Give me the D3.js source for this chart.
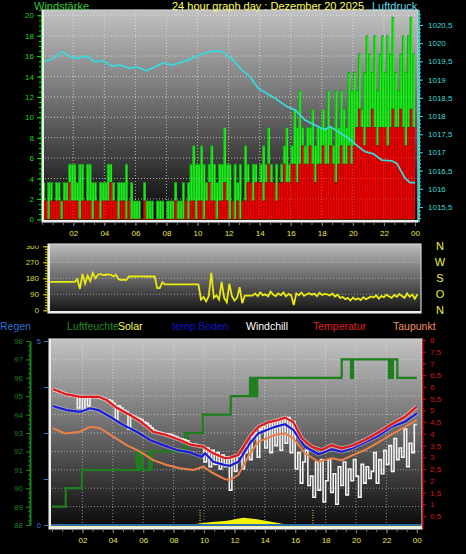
<!DOCTYPE html>
<html>
<head>
<meta charset="utf-8">
<script src="https://cdn.jsdelivr.net/npm/d3@7"></script>
<style>
  body { margin: 0; background: #000; }
  text { font-family: "Liberation Sans", Arial, sans-serif; }
</style>
</head>
<body>
<div id="chart"></div>
<script>
// ---- data ----
var hourLabels = ["02","04","06","08","10","12","14","16","18","20","22","00"];

// wind, in steps of 1.8 km/h, one value every 10 minutes (0:00 .. 23:50)
var windStep = 1.8;
var gustLevels = [
  2,1,2,2,0,2, 2,1,2,2,3,3, 3,2,3,3,1,3, 3,2,2,1,2,2, 2,3,3,2,1,2, 2,2,3,1,2,1,
  1,1,0,2,1,1, 1,0,1,1,1,0, 1,1,1,2,1,1, 2,1,2,3,4,3, 3,4,3,2,3,4, 3,2,3,3,5,3,
  3,1,3,2,3,1, 4,3,2,3,3,2, 3,4,3,5,3,2, 3,2,3,4,5,3, 4,6,5,7,5,4, 5,5,6,4,5,5,
  6,5,7,5,4,7, 5,7,6,5,8,7, 8,7,9,6,8,10, 9,8,10,7,9,10, 8,10,9,11,8,7, 9,10,8,10,11,9];
var speedLevels = [
  1,1,0,1,1,1, 1,0,1,1,2,1, 1,1,0,1,1,1, 1,0,1,1,0,1, 1,1,2,1,1,0, 1,1,0,1,0,0,
  0,0,0,1,0,0, 0,0,0,0,0,0, 0,0,0,1,0,0, 0,1,0,1,1,0, 1,1,0,1,2,1, 1,0,1,1,2,1,
  0,1,0,1,0,1, 1,2,2,1,2,2, 2,1,2,3,2,2, 1,2,2,3,2,2, 3,3,2,3,4,3, 3,4,3,2,3,3,
  4,3,3,4,3,2, 3,4,3,3,4,3, 4,5,6,5,4,5, 5,6,5,4,5,5, 5,4,5,6,5,5, 6,5,4,5,6,5];

// wind direction in degrees, every 10 minutes
var dirDeg = [
  160,160,160,160,160,160, 160,160,160,160,160,175, 120,205,150,195,165,210,
  180,200,205,198,200,202, 200,190,200,175,170,172, 170,190,190,190,190,192,
  190,190,190,190,190,190, 125,125,158,146,146,146, 146,146,146,146,146,146,
  146,146,146,146,146,60,  75,50,80,210,70,85,      60,160,70,45,150,80,
  55,70,130,40,82,82,      82,82,95,80,100,85,      90,78,105,88,80,95,
  85,100,78,92,84,30,      95,85,100,82,90,96,      88,94,80,98,86,92,
  90,84,95,78,88,70,       75,62,70,55,72,60,       68,58,74,62,70,78,
  72,84,66,80,74,88,       78,70,86,76,92,80,       70,95,76,88,65,90];

// air pressure (hPa)
var presHour = [0.07,0.71,1.26,1.79,2.22,2.87,3.4,3.92,4.48,5.01,5.65,6.08,6.73,7.26,7.8,8.34,8.87,
  9.52,10.16,10.8,11.45,11.77,12.2,12.85,13.27,13.92,14.46,14.99,15.74,16.28,16.92,17.56,18.21,
  18.53,19.07,19.71,20.35,20.78,21.32,21.86,22.5,22.83,23.36,23.68,24];
var presHpa = [1019.49,1019.58,1019.77,1019.63,1019.58,1019.65,1019.49,1019.52,1019.37,1019.4,
  1019.31,1019.35,1019.24,1019.35,1019.46,1019.4,1019.46,1019.56,1019.68,1019.77,1019.79,1019.7,
  1019.58,1019.26,1019.13,1018.76,1018.62,1018.49,1018.26,1018.17,1017.89,1017.75,1017.62,
  1017.71,1017.57,1017.39,1017.16,1017.02,1016.96,1016.79,1016.77,1016.7,1016.29,1016.17,1016.17];

// temperatures (°C)
var tempHour = [0.05,0.97,1.84,3.05,3.6,4.26,5.13,5.79,6.66,7.55,8.42,9.08,9.95,10.61,11.38,11.71,
  12.26,13.03,13.57,14.23,14.89,15.33,15.88,16.43,17.09,17.74,18.4,19.06,19.72,20.59,21.47,22.35,23.22,24];
var tempVal = [5.91,5.68,5.58,5.58,5.44,5.11,4.8,4.55,4.09,3.95,3.74,3.55,3.45,3.17,2.96,2.98,
  3.1,3.88,4.3,4.49,4.59,4.69,4.49,3.81,3.45,3.31,3.52,3.38,3.49,3.74,4.06,4.41,4.73,5.16];
var soilHour = [0.05,0.97,1.84,2.5,3.05,3.82,4.69,5.57,6.45,7.32,8.2,9.08,9.85,10.07,10.61,11.38,
  11.71,12.26,13.03,13.57,14.67,15.33,15.88,16.64,17.52,18.4,19.06,19.72,20.59,21.47,22.35,23.22,24];
var soilVal = [5.19,5.01,4.94,5.09,5.01,4.73,4.38,4.09,3.74,3.52,3.31,3.21,3.02,3.17,2.81,2.67,
  2.64,2.81,3.6,4.02,4.3,4.41,4.16,3.45,3.13,3.34,3.24,3.38,3.64,3.92,4.3,4.52,4.87];
var dewHour = [0.05,0.86,1.84,2.5,3.16,4.03,4.91,5.79,6.66,7.55,8.42,9.3,9.95,10.61,11.38,11.71,
  12.26,13.03,13.57,14.67,15.33,15.88,16.64,17.52,18.4,19.06,19.72,20.59,21.47,22.35,23.22,24];
var dewVal = [4.24,4.02,4.09,4.3,4.24,3.88,3.52,3.24,2.88,2.67,2.53,2.46,2.6,2.32,2.07,2.03,
  2.25,3.17,3.66,3.95,4.02,3.81,3.17,2.81,2.96,2.88,3.07,3.31,3.64,3.98,4.3,4.59];
// windchill, every 10 minutes
var chillVal = [
  5.9,5.85,5.8,5.8,5.75,5.7,  5.65,5.6,5.6,5.6,5.1,5.6,   5.0,5.58,5.2,5.58,5.58,5.58,
  5.55,5.5,5.5,5.45,5.45,5.4, 5.3,4.6,5.2,5.1,5.0,4.95,   4.2,4.8,4.75,4.7,4.65,4.6,
  4.5,4.45,4.35,4.25,4.15,4.1, 4.07,4.05,4.0,4.0,3.98,3.95, 3.9,3.85,3.8,3.78,3.75,3.7,
  3.6,3.58,3.55,3.5,3.47,3.45, 2.8,3.4,2.6,3.3,2.7,3.2,   2.5,3.1,2.6,3.0,1.6,2.98,
  2.4,3.05,3.1,2.5,3.2,3.5,   2.9,3.88,4.05,3.0,4.2,4.3,  3.4,4.45,3.2,4.5,3.5,4.59,
  3.3,4.65,3.6,4.69,3.2,4.5,  2.5,3.2,1.9,2.8,3.3,1.8,    2.2,1.3,2.8,1.6,2.9,1.1,
  2.0,2.9,1.5,2.3,1.0,2.6,    1.8,2.8,1.4,2.5,2.0,2.9,    2.2,1.3,2.7,1.9,2.6,2.1,
  2.4,3.2,1.9,2.9,2.3,3.3,    2.7,3.5,2.4,3.8,2.9,3.4,    3.0,4.2,2.6,3.6,3.2,4.4];

// humidity (%), value holds from its hour until the next one
var humHour = [0,0.9,1.97,5.57,5.7,5.85,5.95,6.4,6.5,6.56,8.75,8.82,8.9,9.93,11.76,13.03,13.1,13.25,
  13.35,13.5,19.06,19.67,19.8,22.17,22.25,22.35,22.43,22.72,24];
var humVal = [89,90,91,92,91,92,91,92,91,92,93,92,93,94,95,96,95,96,95,96,97,96,97,96,97,96,97,96,96];

// solar (W/m²)
var solarHour = [9.3,9.41,10.39,11.51,12.57,13.22,14.14,15.33,15.5];
var solarVal = [0,5,15,23,39,34,21,4,0];
var sunMarks = [9.74, 17.17];
var rainVal = 0;

var legendNames = ["Regen","Luftfeuchte","Solar","temp Boden","Windchill","Temperatur","Taupunkt"];
var legendColors = ["#2f6fd6","#1f8f1f","#ffff50","#1414c8","#ffffff","#e02020","#f09060"];
var legendX = [0,67,118,172,246,313,393];

// ---- svg ----
var width = 466, height = 554;
var svg = d3.select("#chart").append("svg")
    .attr("width", width)
    .attr("height", height)
    .style("background", "#000");
var defs = svg.append("defs");

function panel(id, p, topColor, bottomColor) {
  var g = defs.append("linearGradient").attr("id", id + "-bg")
      .attr("x1", 0).attr("y1", 0).attr("x2", 0).attr("y2", 1);
  g.append("stop").attr("offset", "0%").attr("stop-color", topColor);
  g.append("stop").attr("offset", "100%").attr("stop-color", bottomColor);
  defs.append("clipPath").attr("id", id + "-clip").append("rect")
      .attr("x", p.x).attr("y", p.y).attr("width", p.w).attr("height", p.h);
  svg.append("rect").attr("x", p.x).attr("y", p.y).attr("width", p.w).attr("height", p.h)
      .attr("fill", "url(#" + id + "-bg)");
  return svg.append("g").attr("clip-path", "url(#" + id + "-clip)");
}

function frame(p) {
  svg.append("rect").attr("x", p.x).attr("y", p.y).attr("width", p.w).attr("height", p.h)
      .attr("fill", "none").attr("stroke", "#d0d0d0").attr("stroke-width", 1.2);
  svg.append("path").attr("d", "M" + (p.x + 1) + "," + p.y + "V" + (p.y + p.h - 1) + "H" + (p.x + p.w))
      .attr("fill", "none").attr("stroke", "#ececec").attr("stroke-width", 2);
}

function grid(g, p, xs, ys, xScale, yScale, op) {
  g.selectAll(null).data(ys).enter().append("line")
      .attr("x1", p.x).attr("x2", p.x + p.w)
      .attr("y1", function(d) { return yScale(d); }).attr("y2", function(d) { return yScale(d); })
      .attr("stroke", "#e8e8e8").attr("stroke-opacity", op).attr("stroke-dasharray", "1,2");
  g.selectAll(null).data(xs).enter().append("line")
      .attr("y1", p.y).attr("y2", p.y + p.h)
      .attr("x1", function(d) { return xScale(d); }).attr("x2", function(d) { return xScale(d); })
      .attr("stroke", "#e8e8e8").attr("stroke-opacity", op).attr("stroke-dasharray", "1,2");
}

function styleAxis(sel, color, size) {
  sel.selectAll("path").attr("stroke", color);
  sel.selectAll("line").attr("stroke", color);
  sel.selectAll("text").attr("fill", color).style("font-size", size + "px")
      .style("font-family", "'Liberation Sans', Arial, sans-serif");
}

var comma = function(d) { return String(d).replace(".", ","); };
var hourFmt = function(h) { return d3.format("02")(h % 24); };

// =========== top panel : wind + pressure ===========
var pTop = {x: 42, y: 10, w: 376, h: 212};
var xTop = d3.scaleLinear().domain([0, 24]).range([42.2, 415]);
var yWind = d3.scaleLinear().domain([0, 20]).range([219.3, 15.3]);
var yPres = d3.scaleLinear().domain([1015.5, 1020.5]).range([207, 25]);

var gTop = panel("top", pTop, "#c2c2c2", "#030303");
grid(gTop, pTop, d3.range(2, 24, 2), d3.range(2, 21, 2), xTop, yWind, 0.55);

function windSeries(levels) {
  var pts = levels.map(function(v, i) { return {t: i / 6, v: v * windStep}; });
  pts.push({t: 24, v: levels[levels.length - 1] * windStep});
  return pts;
}
var windArea = d3.area().curve(d3.curveStepAfter)
    .x(function(d) { return xTop(d.t); })
    .y0(yWind(0))
    .y1(function(d) { return yWind(d.v); });

function windBars(levels, fill, edge) {
  gTop.append("path").datum(windSeries(levels)).attr("d", windArea).attr("fill", fill);
  // a dark edge at every sample, like the thin bars of the original
  gTop.selectAll(null).data(levels).enter().append("line")
      .attr("x1", function(d, i) { return xTop(i / 6) + 0.4; })
      .attr("x2", function(d, i) { return xTop(i / 6) + 0.4; })
      .attr("y1", yWind(0))
      .attr("y2", function(d) { return yWind(d * windStep); })
      .attr("stroke", edge).attr("stroke-width", 0.8);
  gTop.selectAll(null).data(levels).enter().append("line")
      .attr("x1", function(d, i) { return xTop(i / 6); })
      .attr("x2", function(d, i) { return xTop((i + 1) / 6); })
      .attr("y1", function(d) { return yWind(d * windStep); })
      .attr("y2", function(d) { return yWind(d * windStep); })
      .attr("stroke", edge).attr("stroke-width", 0.8);
}
windBars(gustLevels, "#18f018", "#1d8f1d");
windBars(speedLevels, "#f20000", "#9a0000");

// grid shows through the bars
grid(gTop, pTop, d3.range(2, 24, 2), d3.range(2, 21, 2), xTop, yWind, 0.3);

var presLine = d3.line()
    .x(function(d, i) { return xTop(presHour[i]); })
    .y(function(d) { return yPres(d); });
gTop.append("path").datum(presHpa).attr("d", presLine)
    .attr("fill", "none").attr("stroke", "#3ad8dc").attr("stroke-width", 1.8);
frame(pTop);

// axes
var ax = svg.append("g").attr("transform", "translate(41,0)")
    .call(d3.axisLeft(yWind).tickValues(d3.range(0, 21, 2)).tickSize(4).tickSizeOuter(0).tickPadding(3));
styleAxis(ax, "#22d022", 8);
ax = svg.append("g").attr("transform", "translate(41,0)")
    .call(d3.axisLeft(yWind).tickValues(d3.range(0, 20.6, 0.5)).tickSize(2).tickSizeOuter(0).tickFormat(""));
styleAxis(ax, "#22d022", 8);

ax = svg.append("g").attr("transform", "translate(419,0)")
    .call(d3.axisRight(yPres).tickValues(d3.range(1015.5, 1020.6, 0.5)).tickSize(4).tickSizeOuter(0)
      .tickPadding(5).tickFormat(comma));
styleAxis(ax, "#3ad8dc", 8);
ax = svg.append("g").attr("transform", "translate(419,0)")
    .call(d3.axisRight(yPres).tickValues(d3.range(1015.2, 1020.85, 0.1)).tickSize(2).tickSizeOuter(0).tickFormat(""));
styleAxis(ax, "#3ad8dc", 8);
svg.append("line").attr("x1", 419).attr("x2", 419).attr("y1", 10).attr("y2", 222)
    .attr("stroke", "#3ad8dc").attr("stroke-width", 1.5);

ax = svg.append("g").attr("transform", "translate(0,223)")
    .call(d3.axisBottom(xTop).tickValues(d3.range(2, 25, 2)).tickSize(3).tickPadding(4).tickFormat(hourFmt));
styleAxis(ax, "#e8e84a", 8);
ax.select(".domain").remove();
ax.selectAll("line").attr("stroke", "#888");
ax = svg.append("g").attr("transform", "translate(0,223)")
    .call(d3.axisBottom(xTop).tickValues(d3.range(0, 24.01, 2 / 3)).tickSize(2).tickFormat(""));
ax.select(".domain").remove();
ax.selectAll("line").attr("stroke", "#777");

// titles
svg.append("text").attr("x", 34).attr("y", 9.5).style("font-size", "11px").attr("fill", "#33cc33").text("Windstärke");
svg.append("text").attr("x", 172).attr("y", 9.5).style("font-size", "11px").attr("fill", "#ffff55")
    .text("24 hour graph day : Dezember 20 2025");
svg.append("text").attr("x", 372).attr("y", 9.5).style("font-size", "11px").attr("fill", "#55d8e8").text("Luftdruck");

// =========== middle panel : wind direction ===========
var pMid = {x: 48, y: 244, w: 373, h: 69};
var xMid = d3.scaleLinear().domain([0, 24]).range([49, 420]);
var yDir = d3.scaleLinear().domain([0, 360]).range([310.3, 246.3]);

var gMid = panel("mid", pMid, "#bdbdbd", "#101010");
grid(gMid, pMid, [], [90, 180, 270], xMid, yDir, 0.55);
var dirLine = d3.line()
    .x(function(d, i) { return xMid(i / 6); })
    .y(function(d) { return yDir(d); });
gMid.append("path").datum(dirDeg).attr("d", dirLine)
    .attr("fill", "none").attr("stroke", "#eaea10").attr("stroke-width", 1.8);
frame(pMid);

// the 360 label is cut at the panel top, as in the original
defs.append("clipPath").attr("id", "mid-axis-clip").append("rect")
    .attr("x", -50).attr("y", 245.8).attr("width", 60).attr("height", 80);
ax = svg.append("g").attr("transform", "translate(47,0)").attr("clip-path", "url(#mid-axis-clip)")
    .call(d3.axisLeft(yDir).tickValues([0, 90, 180, 270, 360]).tickSize(4).tickSizeOuter(0).tickPadding(4));
styleAxis(ax, "#d8d830", 8);
ax = svg.append("g").attr("transform", "translate(47,0)")
    .call(d3.axisLeft(yDir).tickValues(d3.range(0, 361, 15)).tickSize(2).tickSizeOuter(0).tickFormat(""));
styleAxis(ax, "#c8c820", 8);

var compass = ["N", "O", "S", "W", "N"];
svg.selectAll(null).data([0, 90, 180, 270, 360]).enter().append("text")
    .attr("x", 440).attr("y", function(d) { return yDir(d) + 4; })
    .attr("text-anchor", "middle").style("font-size", "11px").attr("fill", "#f0f040")
    .text(function(d, i) { return compass[i]; });

// =========== bottom panel : temperatures, humidity, solar ===========
var pBot = {x: 49, y: 339, w: 373, h: 190};
var xBot = d3.scaleLinear().domain([0, 24]).range([52, 416.8]);
var yTemp = d3.scaleLinear().domain([0, 8]).range([527.7, 340]);
var yHum = d3.scaleLinear().domain([88, 98]).range([525, 341]);
var yRain = d3.scaleLinear().domain([0, 5]).range([525, 341]);
var ySolar = d3.scaleLinear().domain([0, 1000]).range([525, 339]);

svg.selectAll(null).data(legendNames).enter().append("text")
    .attr("x", function(d, i) { return legendX[i]; }).attr("y", 330)
    .style("font-size", "10.5px")
    .attr("fill", function(d, i) { return legendColors[i]; })
    .text(function(d) { return d; });

var gBot = panel("bot", pBot, "#c4c4c4", "#080808");
grid(gBot, pBot, d3.range(2, 24, 2), d3.range(89, 98, 1), xBot, yHum, 0.55);

var humLine = d3.line().curve(d3.curveStepAfter)
    .x(function(d, i) { return xBot(humHour[i]); })
    .y(function(d) { return yHum(d); });
gBot.append("path").datum(humVal).attr("d", humLine)
    .attr("fill", "none").attr("stroke", "#1f7f1f").attr("stroke-width", 2.2);

var solarArea = d3.area()
    .x(function(d, i) { return xBot(solarHour[i]); })
    .y0(ySolar(0))
    .y1(function(d) { return ySolar(d); });
gBot.append("path").datum(solarVal).attr("d", solarArea).attr("fill", "#f4f400");
gBot.selectAll(null).data(sunMarks).enter().append("line")
    .attr("x1", function(d) { return xBot(d); }).attr("x2", function(d) { return xBot(d); })
    .attr("y1", 510).attr("y2", 525)
    .attr("stroke", "#e8e840").attr("stroke-width", 1).attr("stroke-dasharray", "1,1.5");

// rain line at 0 and base band
gBot.append("line").attr("x1", pBot.x).attr("x2", pBot.x + pBot.w)
    .attr("y1", yRain(rainVal)).attr("y2", yRain(rainVal))
    .attr("stroke", "#2d6ea8").attr("stroke-width", 2.2);
gBot.append("line").attr("x1", pBot.x).attr("x2", pBot.x + pBot.w)
    .attr("y1", 527.3).attr("y2", 527.3)
    .attr("stroke", "#ecec9c").attr("stroke-width", 2.5);

var chillLine = d3.line().curve(d3.curveStepAfter)
    .x(function(d, i) { return xBot(i / 6); })
    .y(function(d) { return yTemp(d); });
var chillData = chillVal.concat([chillVal[chillVal.length - 1]]);
gBot.append("path").datum(chillData).attr("d", chillLine)
    .attr("fill", "none").attr("stroke", "#f4f4f4").attr("stroke-width", 1.6);

function tLine(hours) {
  return d3.line()
      .x(function(d, i) { return xBot(hours[i]); })
      .y(function(d) { return yTemp(d); });
}
gBot.append("path").datum(dewVal).attr("d", tLine(dewHour))
    .attr("fill", "none").attr("stroke", "#ec8048").attr("stroke-width", 2);
gBot.append("path").datum(soilVal).attr("d", tLine(soilHour))
    .attr("fill", "none").attr("stroke", "#ffffff").attr("stroke-opacity", 0.35).attr("stroke-width", 4);
gBot.append("path").datum(soilVal).attr("d", tLine(soilHour))
    .attr("fill", "none").attr("stroke", "#1a1ad8").attr("stroke-width", 2.2);
gBot.append("path").datum(tempVal).attr("d", tLine(tempHour))
    .attr("fill", "none").attr("stroke", "#ffdada").attr("stroke-opacity", 0.6).attr("stroke-width", 4);
gBot.append("path").datum(tempVal).attr("d", tLine(tempHour))
    .attr("fill", "none").attr("stroke", "#e01818").attr("stroke-width", 2.2);
frame(pBot);

// humidity axis
ax = svg.append("g").attr("transform", "translate(30,0)")
    .call(d3.axisLeft(yHum).tickValues(d3.range(88, 99, 1)).tickSize(4).tickSizeOuter(0).tickPadding(3));
styleAxis(ax, "#1f7f1f", 8);
ax.select(".domain").attr("stroke-width", 2);
ax = svg.append("g").attr("transform", "translate(30,0)")
    .call(d3.axisLeft(yHum).tickValues(d3.range(88, 98.01, 0.25)).tickSize(2).tickSizeOuter(0).tickFormat(""));
styleAxis(ax, "#1f7f1f", 8);

// rain axis
ax = svg.append("g").attr("transform", "translate(48,0)")
    .call(d3.axisLeft(yRain).tickValues([0, 1.25, 2.5, 3.75, 5]).tickSize(4).tickSizeOuter(0).tickPadding(3)
      .tickFormat(function(d) { return d === 0 || d === 5 ? d : ""; }));
styleAxis(ax, "#3a7ad0", 8);
ax.select(".domain").remove();

// temperature axis
ax = svg.append("g").attr("transform", "translate(422,0)")
    .call(d3.axisRight(yTemp).tickValues(d3.range(0.5, 8.01, 0.5)).tickSize(4).tickSizeOuter(0)
      .tickPadding(4).tickFormat(comma));
styleAxis(ax, "#d01818", 8);
ax = svg.append("g").attr("transform", "translate(422,0)")
    .call(d3.axisRight(yTemp).tickValues(d3.range(0, 8.01, 0.1)).tickSize(2).tickSizeOuter(0).tickFormat(""));
styleAxis(ax, "#d01818", 8);

ax = svg.append("g").attr("transform", "translate(0,530)")
    .call(d3.axisBottom(xBot).tickValues(d3.range(2, 25, 2)).tickSize(3).tickPadding(4).tickFormat(hourFmt));
styleAxis(ax, "#e8e84a", 8);
ax.select(".domain").remove();
ax.selectAll("line").attr("stroke", "#888");
ax = svg.append("g").attr("transform", "translate(0,530)")
    .call(d3.axisBottom(xBot).tickValues(d3.range(0, 24.01, 2 / 3)).tickSize(2).tickFormat(""));
ax.select(".domain").remove();
ax.selectAll("line").attr("stroke", "#777");
</script>
</body>
</html>
